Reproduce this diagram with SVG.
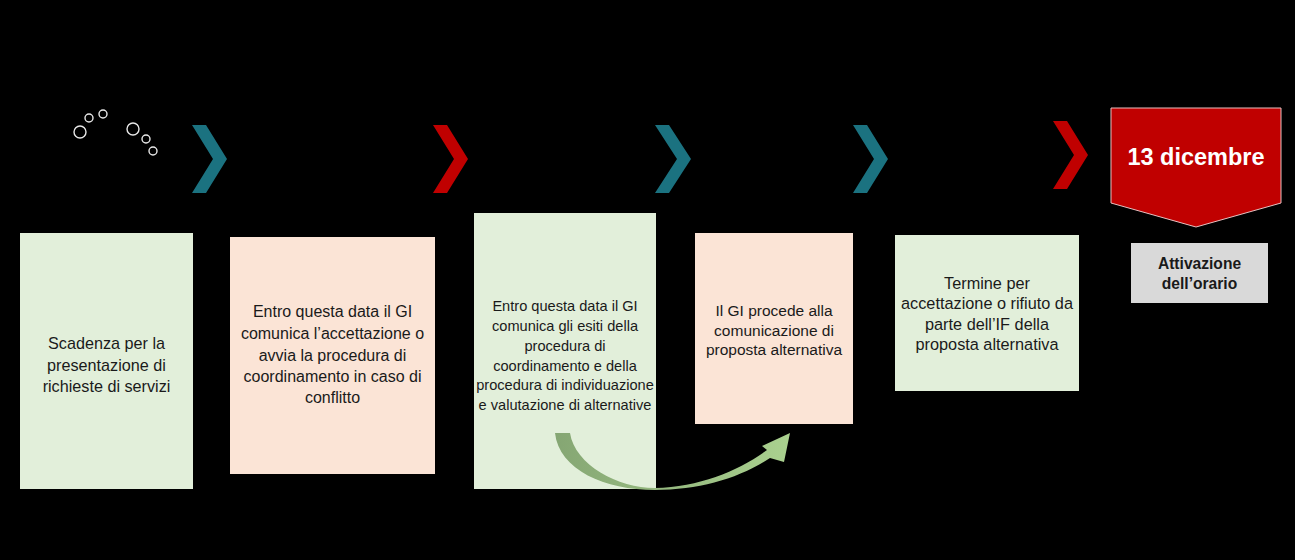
<svg xmlns="http://www.w3.org/2000/svg" width="1295" height="560" viewBox="0 0 1295 560">
<defs>
<style>
.g{fill:#E2EFDA}
.p{fill:#FBE4D6}
.t{font-family:"Liberation Sans",Arial,sans-serif;fill:#1a1a1a;text-anchor:middle}
.teal{fill:#1B7280}
.red{fill:#C00000}
.c{fill:none;stroke:#e8e8e8;stroke-width:1.4}
</style>
<linearGradient id="ag" x1="0" y1="0" x2="1" y2="0">
<stop offset="0" stop-color="#85A673"/>
<stop offset="1" stop-color="#AAD18F"/>
</linearGradient>
</defs>
<rect width="1295" height="560" fill="#000"/>
<g id="bubbles">
<circle class="c" cx="80" cy="132" r="6"/>
<circle class="c" cx="89" cy="118" r="4"/>
<circle class="c" cx="103" cy="114" r="4"/>
<circle class="c" cx="133" cy="129" r="6"/>
<circle class="c" cx="146" cy="139" r="4"/>
<circle class="c" cx="153" cy="151" r="4"/>
</g>
<g id="chevrons">
<polygon class="teal" points="192,125 206,125 227,159 206,193 192,193 213,159"/>
<polygon class="red" points="433,125 447,125 468,159 447,193 433,193 454,159"/>
<polygon class="teal" points="655,125 669,125 691,159 669,193 655,193 677,159"/>
<polygon class="teal" points="853,125 867,125 888,159 867,193 853,193 874,159"/>
<polygon class="red" points="1053,121 1067,121 1088,155 1067,189 1053,189 1074,155"/>
</g>
<g id="n1">
<rect class="g" x="20" y="233" width="173" height="256"/>
<text class="t" font-size="16.2"><tspan x="106.5" y="349">Scadenza per la</tspan><tspan x="106.5" y="371">presentazione di</tspan><tspan x="106.5" y="392">richieste di servizi</tspan></text>
</g>
<g id="n2">
<rect class="p" x="230" y="237" width="205" height="237"/>
<text class="t" font-size="16"><tspan x="332.5" y="317">Entro questa data il GI</tspan><tspan x="332.5" y="339">comunica l’accettazione o</tspan><tspan x="332.5" y="361">avvia la procedura di</tspan><tspan x="332.5" y="382">coordinamento in caso di</tspan><tspan x="332.5" y="403">conflitto</tspan></text>
</g>
<g id="n3">
<rect class="g" x="474" y="213" width="182" height="276"/>
<text class="t" font-size="14.6"><tspan x="565" y="311">Entro questa data il GI</tspan><tspan x="565" y="331">comunica gli esiti della</tspan><tspan x="565" y="351">procedura di</tspan><tspan x="565" y="371">coordinamento e della</tspan><tspan x="565" y="390">procedura di individuazione</tspan><tspan x="565" y="410">e valutazione di alternative</tspan></text>
</g>
<g id="n4">
<rect class="p" x="695" y="233" width="158" height="191"/>
<text class="t" font-size="15.5"><tspan x="774" y="316">Il GI procede alla</tspan><tspan x="774" y="336">comunicazione di</tspan><tspan x="774" y="355">proposta alternativa</tspan></text>
</g>
<g id="n5">
<rect class="g" x="895" y="235" width="184" height="156"/>
<text class="t" font-size="16.3"><tspan x="987" y="289">Termine per</tspan><tspan x="987" y="309">accettazione o rifiuto da</tspan><tspan x="987" y="330">parte dell’IF della</tspan><tspan x="987" y="350">proposta alternativa</tspan></text>
</g>
<g id="n6">
<polygon points="1111,108 1281,108 1281,203 1196,227 1111,203" fill="#C00000" stroke="#e8c0c0" stroke-width="1"/>
<text x="1196" y="165" font-family="'Liberation Sans',Arial,sans-serif" font-size="23.5" font-weight="bold" fill="#fff" text-anchor="middle">13 dicembre</text>
</g>
<g id="n7">
<rect x="1131" y="243" width="137" height="60" fill="#D9D9D9"/>
<text class="t" font-size="15.6" font-weight="bold"><tspan x="1199.5" y="269">Attivazione</tspan><tspan x="1199.5" y="289">dell’orario</tspan></text>
</g>
<g id="connectors">
<path fill="url(#ag)" d="M555,433 C559,470 605,490 655,490 C700,490 740,478 770,458 L784,462 L790,433 L762,446 L767,450 C740,470 700,487 655,488 C618,488 575,465 570,433 Z"/>
</g>
</svg>
